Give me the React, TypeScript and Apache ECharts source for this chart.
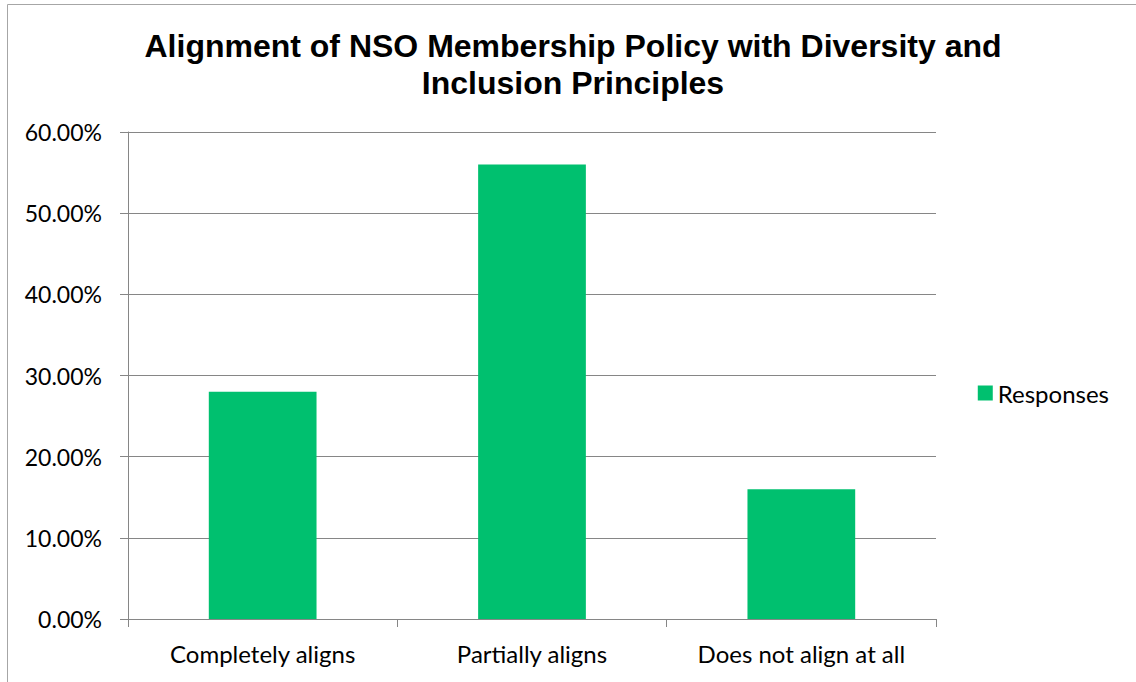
import React, { useEffect, useRef } from "react";
import * as echarts from "echarts";

const categories = ["Completely aligns", "Partially aligns", "Does not align at all"];
const responses = [0.28, 0.56, 0.16];
const seriesName = "Responses";
const titleLines = ["Alignment of NSO Membership Policy with Diversity and", "Inclusion Principles"];

const labelFont = "Lato, Open Sans, sans-serif";

export default function App() {
  const ref = useRef<HTMLDivElement>(null);
  useEffect(() => {
    document.body.style.margin = "0";
    const chart = echarts.init(ref.current!, null, { renderer: "svg" });
    chart.setOption({
      animation: false,
      backgroundColor: "#ffffff",
      title: {
        text: titleLines.join("\n"),
        left: 568,
        top: 22,
        textAlign: "center",
        textStyle: {
          fontFamily: "Liberation Sans, Arial, sans-serif",
          fontWeight: "bold",
          fontSize: 32,
          lineHeight: 37,
          color: "#000000",
        },
      },
      graphic: [
        {
          type: "rect",
          shape: { x: 7.5, y: 4.5, width: 1200, height: 800 },
          style: { fill: "none", stroke: "#a6a6a6", lineWidth: 1 },
          silent: true,
        },
      ],
      legend: {
        right: 22,
        top: 376,
        orient: "vertical",
        itemWidth: 15,
        itemHeight: 15,
        itemGap: 8,
        icon: "rect",
        textStyle: { fontFamily: labelFont, fontSize: 24, color: "#000" },
        data: [seriesName],
      },
      grid: { left: 128, top: 132, width: 808, height: 487, containLabel: false },
      xAxis: {
        type: "category",
        data: categories,
        axisLine: { lineStyle: { color: "#868686" } },
        axisTick: { show: true, interval: 0, length: 8, lineStyle: { color: "#868686" } },
        axisLabel: {
          interval: 0,
          hideOverlap: false,
          fontFamily: labelFont,
          fontSize: 24,
          color: "#000",
          margin: 22,
        },
      },
      yAxis: {
        type: "value",
        min: 0,
        max: 0.6,
        interval: 0.1,
        axisLine: { show: true, lineStyle: { color: "#868686" } },
        axisTick: { show: true, length: 8, lineStyle: { color: "#868686" } },
        splitLine: { lineStyle: { color: "#868686" } },
        axisLabel: {
          fontFamily: labelFont,
          fontSize: 23,
          color: "#000",
          margin: 26,
          formatter: (v: number) => (v * 100).toFixed(2) + "%",
        },
      },
      series: [
        {
          name: seriesName,
          type: "bar",
          data: responses,
          barWidth: "40%",
          itemStyle: { color: "#00c06f" },
        },
      ],
    });
    return () => chart.dispose();
  }, []);
  return (
    <div
      ref={ref}
      style={{ position: "absolute", left: 0, top: 0, width: 1136, height: 682 }}
    />
  );
}
